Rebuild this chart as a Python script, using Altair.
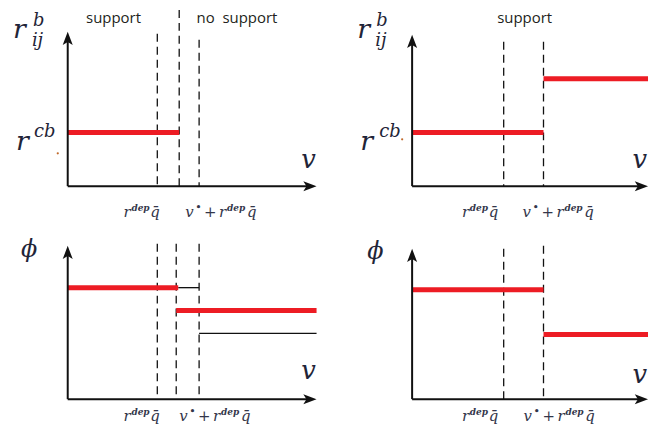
import altair as alt
import pandas as pd

# ---------------- data (in the diagram's own units) ----------------
panels = ["TL", "TR", "BL", "BR"]

# dashed vertical guides: v position and top end
guide_panel = ["TL", "TL", "TL", "TR", "TR", "BL", "BL", "BL", "BR", "BR"]
guide_v     = [9.0, 11.2, 13.2, 9.2, 13.2, 9.0, 10.9, 13.2, 9.2, 13.2]
guide_top   = [15.3, 17.7, 14.7, 14.5, 14.5, 15.6, 15.6, 15.6, 15.1, 15.4]

# thick red step segments
red_panel = ["TL", "TR", "TR", "BL", "BL", "BR", "BR"]
red_v0    = [0.0, 0.0, 13.2, 0.0, 10.9, 0.0, 13.2]
red_v1    = [11.2, 13.2, 23.7, 11.1, 25.0, 13.2, 23.7]
red_level = [5.4, 5.4, 10.8, 11.2, 8.9, 11.0, 6.5]

# thin black segments
thin_panel = ["BL", "BL"]
thin_v0    = [11.1, 13.2]
thin_v1    = [13.2, 25.0]
thin_level = [11.2, 6.6]

# axis extents
axis_vmax = [25.0, 23.7, 25.0, 23.7]
axis_ymax = [15.5, 15.2, 15.4, 15.1]

# texts
region_panel = ["TL", "TL", "TR"]
region_text  = ["support", "no\u00a0\u00a0support", "support"]
region_v     = [4.6, 17.0, 11.3]
region_y     = [16.4, 16.4, 16.4]

tick1_text = ["r", "dep", "q\u0304"]
tick2_text = ["v", "\u2022", "+", "r", "dep", "q\u0304"]

# ---------------- layout ----------------
PX = 10.0                      # pixels per unit
ROW_H = 208
col_left = {"TL": 8, "TR": 330, "BL": 8, "BR": 330}
col_w = {"TL": 322, "TR": 321, "BL": 322, "BR": 321}
row_top = {"TL": 8, "TR": 8, "BL": 216, "BR": 216}
origin = {"TL": (68, 185), "TR": (414, 185), "BL": (68, 399), "BR": (414, 399)}

# label anchors (units)
ylab = {  # (kind, text, v, y)
    "TL": [("big", "r", -5.5, 14.9), ("sup1", "b", -3.5, 16.1), ("sub", "ij", -3.6, 14.1),
           ("big", "r", -5.2, 3.6), ("sup1", "cb", -3.4, 4.9)],
    "TR": [("big", "r", -5.5, 14.9), ("sup1", "b", -3.6, 16.1), ("sub", "ij", -3.7, 14.1),
           ("big", "r", -5.2, 3.6), ("sup1", "cb", -3.3, 4.9)],
    "BL": [("phi", "\u03d5", -4.7, 14.3)],
    "BR": [("phi", "\u03d5", -4.5, 14.1)],
}
dots = {"TL": (-1.0, 3.3), "TR": (-1.0, 4.7)}
vlab = {"TL": (24.2, 1.8, "center"), "TR": (23.6, 1.8, "right"),
        "BL": (24.2, 2.0, "center"), "BR": (23.6, 1.6, "right")}
tick_anchor = {"TL": (5.6, 11.8, -3.1), "TR": (5.0, 11.1, -3.1),
               "BL": (5.6, 11.2, -2.2), "BR": (5.0, 11.2, -2.2)}
tick1_dx = [0, 8, 27]
tick1_kind = ["tk", "sup", "tk"]
tick2_dx = [0, 10, 19, 34, 42, 62]
tick2_kind = ["tk", "dot", "tk", "tk", "sup", "tk"]
raise_px = {"tk": 0, "sup": 6, "dot": 6}

MATH = "DejaVu Serif"
MCOL = "#1f2538"
TCOL = "#33364a"
RED = "#ed1c24"
UP = "M0,-1L0.72,0.9L0,0.45L-0.72,0.9Z"
RIGHT = "M1,0L-0.9,0.72L-0.45,0L-0.9,-0.72Z"

text_style = {
    "big": dict(font=MATH, fontSize=27, fontStyle="italic", color=MCOL),
    "sup1": dict(font=MATH, fontSize=18, fontStyle="italic", color=MCOL),
    "sub": dict(font=MATH, fontSize=18, fontStyle="italic", color=MCOL),
    "phi": dict(font=MATH, fontSize=24, fontStyle="italic", color=MCOL),
    "v":   dict(font=MATH, fontSize=26, fontStyle="italic", color=MCOL),
    "tk":  dict(font=MATH, fontSize=15, fontStyle="italic", color=TCOL),
    "sup": dict(font=MATH, fontSize=9, fontStyle="italic", fontWeight="bold", color=TCOL),
    "dot": dict(font=MATH, fontSize=11, color=TCOL),
}


def panel(key):
    i = panels.index(key)
    ox, oy = origin[key]
    xdom = [(col_left[key] - ox) / PX, (col_left[key] + col_w[key] - ox) / PX]
    ydom = [(oy - (row_top[key] + ROW_H)) / PX, (oy - row_top[key]) / PX]
    xs = alt.Scale(domain=xdom, nice=False, zero=False)
    ys = alt.Scale(domain=ydom, nice=False, zero=False)

    def X(f):
        return alt.X(f, type="quantitative", scale=xs, axis=None)

    def Y(f):
        return alt.Y(f, type="quantitative", scale=ys, axis=None)

    layers = []
    g = pd.DataFrame({"p": guide_panel, "v": guide_v, "top": guide_top})
    g = g[g.p == key].assign(y0=0.0)
    layers.append(alt.Chart(g).mark_rule(color="#111", strokeWidth=1.3, strokeDash=[8, 5])
                  .encode(x=X("v"), y=Y("top"), y2=alt.Y2("y0")))
    t = pd.DataFrame({"p": thin_panel, "v0": thin_v0, "v1": thin_v1, "y": thin_level})
    t = t[t.p == key]
    if len(t):
        layers.append(alt.Chart(t).mark_rule(color="#111", strokeWidth=1.3)
                      .encode(x=X("v0"), x2=alt.X2("v1"), y=Y("y")))
    r = pd.DataFrame({"p": red_panel, "v0": red_v0, "v1": red_v1, "y": red_level})
    r = r[r.p == key]
    layers.append(alt.Chart(r).mark_rule(color=RED, strokeWidth=5, strokeCap="butt")
                  .encode(x=X("v0"), x2=alt.X2("v1"), y=Y("y")))
    head = 0.7
    ax = pd.DataFrame({"x0": [0.0], "x1": [axis_vmax[i] - head], "y0": [0.0],
                       "y1": [axis_ymax[i] - head]})
    layers.append(alt.Chart(ax).mark_rule(color="#111", strokeWidth=2)
                  .encode(x=X("x0"), x2=alt.X2("x1"), y=Y("y0")))
    layers.append(alt.Chart(ax).mark_rule(color="#111", strokeWidth=2)
                  .encode(x=X("x0"), y=Y("y0"), y2=alt.Y2("y1")))
    layers.append(alt.Chart(ax).mark_point(shape=UP, size=196, filled=True, color="#111", opacity=1)
                  .encode(x=X("x0"), y=Y("y1")))
    layers.append(alt.Chart(ax).mark_point(shape=RIGHT, size=196, filled=True, color="#111", opacity=1)
                  .encode(x=X("x1"), y=Y("y0")))
    rows = []
    for kind, txt, v, y in ylab[key]:
        rows.append({"kind": kind, "text": txt, "v": v, "y": y, "align": "left"})
    vx, vy, val = vlab[key]
    rows.append({"kind": "v", "text": "v", "v": vx, "y": vy, "align": val})
    a1, a2, ty = tick_anchor[key]
    for txt, dx, kd in zip(tick1_text, tick1_dx, tick1_kind):
        rows.append({"kind": kd, "text": txt, "v": a1 + dx / PX, "y": ty + raise_px[kd] / PX, "align": "left"})
    for txt, dx, kd in zip(tick2_text, tick2_dx, tick2_kind):
        rows.append({"kind": kd, "text": txt, "v": a2 + dx / PX, "y": ty + raise_px[kd] / PX, "align": "left"})
    lab = pd.DataFrame(rows)
    for (kind, align), sub in lab.groupby(["kind", "align"]):
        layers.append(alt.Chart(sub).mark_text(align=align, baseline="alphabetic", **text_style[kind])
                      .encode(x=X("v"), y=Y("y"), text="text:N"))
    rg = pd.DataFrame({"p": region_panel, "text": region_text, "v": region_v, "y": region_y})
    rg = rg[rg.p == key]
    if len(rg):
        layers.append(alt.Chart(rg).mark_text(align="center", baseline="alphabetic", font="Open Sans",
                                              fontSize=15, color="#231f20")
                      .encode(x=X("v"), y=Y("y"), text="text:N"))
    if key in dots:
        d = pd.DataFrame({"v": [dots[key][0]], "y": [dots[key][1]]})
        layers.append(alt.Chart(d).mark_circle(size=5, color="#c0692a", opacity=1)
                      .encode(x=X("v"), y=Y("y")))
    return alt.layer(*layers).properties(width=col_w[key], height=ROW_H)


chart = (
    alt.concat(*[panel(k) for k in panels], columns=2, spacing=0, bounds="flush")
    .resolve_scale(x="independent", y="independent")
    .properties(padding=0, background="white")
    .configure_view(strokeWidth=0)
)

chart.save("out.html", embed_options={"renderer": "svg", "actions": False})
